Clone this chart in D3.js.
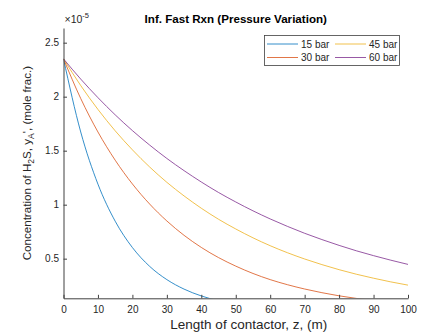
<!DOCTYPE html>
<html>
<head>
<meta charset="utf-8">
<script src="https://cdn.jsdelivr.net/npm/d3@7"></script>
<style>
  body { margin: 0; background: #fff; }
  svg { display: block; font-family: "Liberation Sans", Arial, Helvetica, sans-serif; }
  .axis path, .axis line { stroke: #404040; stroke-width: 1; }
  .axis text { fill: #262626; font-size: 10px; }
</style>
</head>
<body>
<div id="chart"></div>
<script>
// length of contactor z (m)
const zValues = [0, 5, 10, 15, 20, 25, 30, 35, 40, 45, 50, 55, 60, 65, 70, 75, 80, 85, 90, 95, 100]

// H2S mole fraction (x1e-5)
const bar15 = [2.35, 1.673, 1.190, 0.847, 0.603, 0.429, 0.306, 0.218, 0.155, 0.110, 0.078, 0.056, 0.040, 0.028, 0.020, 0.014, 0.010, 0.0073, 0.0052, 0.0037, 0.0026]
const bar30 = [2.35, 1.983, 1.673, 1.412, 1.192, 1.006, 0.849, 0.716, 0.604, 0.510, 0.431, 0.363, 0.306, 0.259, 0.219, 0.185, 0.156, 0.132, 0.112, 0.095, 0.080]
const bar45 = [2.35, 2.103, 1.882, 1.684, 1.508, 1.349, 1.207, 1.081, 0.967, 0.865, 0.775, 0.693, 0.620, 0.555, 0.497, 0.445, 0.398, 0.356, 0.319, 0.285, 0.255]
const bar60 = [2.35, 2.163, 1.991, 1.832, 1.686, 1.552, 1.428, 1.315, 1.210, 1.113, 1.025, 0.943, 0.868, 0.799, 0.735, 0.677, 0.623, 0.573, 0.528, 0.486, 0.447]

const seriesNames = ['15 bar', '30 bar', '45 bar', '60 bar']
const seriesColors = ['#0072BD', '#D95319', '#EDB120', '#7E2F8E']
const xTicks = [0, 10, 20, 30, 40, 50, 60, 70, 80, 90, 100]
const yTicks = [0.5, 1, 1.5, 2, 2.5]

const width = 424, height = 333
const plot = { left: 63.5, right: 408, top: 28, bottom: 298.3 }

const svg = d3.select('#chart').append('svg')
  .attr('width', width)
  .attr('height', height)

const x = d3.scaleLinear().domain([0, 100]).range([plot.left, plot.right])
const y = d3.scaleLinear().domain([0.133, 2.636]).range([plot.bottom, plot.top])

// clip so curves stop at the axes like the original
svg.append('clipPath').attr('id', 'plotclip')
  .append('rect')
  .attr('x', plot.left).attr('y', plot.top)
  .attr('width', plot.right - plot.left).attr('height', plot.bottom - plot.top)

const seriesData = [bar15, bar30, bar45, bar60]
const line = d3.line()
  .x((d, i) => x(zValues[i]))
  .y(d => y(d))
  .curve(d3.curveMonotoneX)

svg.append('g')
  .attr('clip-path', 'url(#plotclip)')
  .selectAll('path')
  .data(seriesData)
  .enter()
  .append('path')
  .attr('d', d => line(d))
  .attr('fill', 'none')
  .attr('stroke', (d, i) => seriesColors[i])
  .attr('stroke-width', 0.8)

// axes
const xAxis = d3.axisBottom(x).tickValues(xTicks).tickSizeInner(-3.5).tickSizeOuter(0).tickPadding(8)
const yAxis = d3.axisLeft(y).tickValues(yTicks).tickSizeInner(-3.5).tickSizeOuter(0).tickPadding(4.5)
  .tickFormat(d3.format('~g'))

svg.append('g')
  .attr('class', 'axis')
  .attr('transform', 'translate(0,' + plot.bottom + ')')
  .call(xAxis)
svg.append('g')
  .attr('class', 'axis')
  .attr('transform', 'translate(' + plot.left + ',0)')
  .call(yAxis)

// exponent marker
const expo = svg.append('text')
  .attr('x', plot.left + 1)
  .attr('y', 22.5)
  .attr('font-size', 10.5)
  .attr('fill', '#262626')
expo.append('tspan').text('\u00d710')
expo.append('tspan').attr('font-size', 7.5).attr('dy', -4.5).text('-5')

// title
svg.append('text')
  .attr('x', (plot.left + plot.right) / 2)
  .attr('y', 23)
  .attr('text-anchor', 'middle')
  .attr('font-size', 11.6)
  .attr('font-weight', 'bold')
  .attr('fill', '#000')
  .text('Inf. Fast Rxn (Pressure Variation)')

// x label
svg.append('text')
  .attr('x', (plot.left + plot.right) / 2 + 13)
  .attr('y', 329)
  .attr('text-anchor', 'middle')
  .attr('font-size', 13.5)
  .attr('fill', '#262626')
  .text('Length of contactor, z, (m)')

// y label with subscripts
const yl = svg.append('text')
  .attr('transform', 'translate(30.5,' + ((plot.top + plot.bottom) / 2) + ') rotate(-90)')
  .attr('text-anchor', 'middle')
  .attr('font-size', 11.6)
  .attr('fill', '#262626')
yl.append('tspan').text('Concentration of H')
yl.append('tspan').attr('font-size', 8.5).attr('dy', 3).text('2')
yl.append('tspan').attr('dy', -3).text('S, y')
yl.append('tspan').attr('font-size', 8.5).attr('dy', 3).text('A')
yl.append('tspan').attr('dy', -3).text("', (mole frac.)")

// legend
const legend = svg.append('g')
legend.append('rect')
  .attr('x', 264.5).attr('y', 35.5)
  .attr('width', 135).attr('height', 30)
  .attr('fill', '#fff')
  .attr('stroke', '#404040')
  .attr('stroke-width', 0.8)

const legendPos = [[267, 44], [267, 57.5], [335, 44], [335, 57.5]]
const items = legend.selectAll('.item')
  .data(seriesNames)
  .enter()
  .append('g')
  .attr('class', 'item')
  .attr('transform', (d, i) => 'translate(' + legendPos[i][0] + ',' + legendPos[i][1] + ')')
items.append('line')
  .attr('x1', 0).attr('x2', 31)
  .attr('stroke', (d, i) => seriesColors[i])
  .attr('stroke-width', 0.8)
items.append('text')
  .attr('x', 34)
  .attr('dy', '0.35em')
  .attr('font-size', 10)
  .attr('fill', '#262626')
  .text(d => d)
</script>
</body>
</html>
